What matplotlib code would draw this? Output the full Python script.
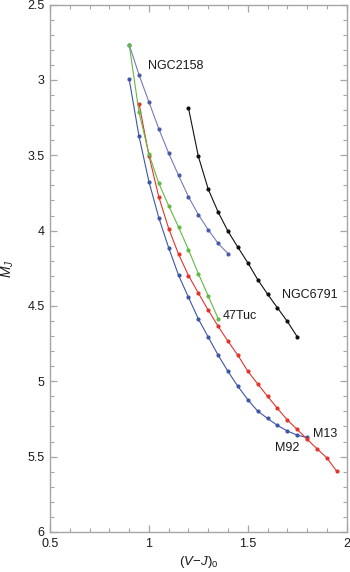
import matplotlib
matplotlib.use("Agg")
import matplotlib.pyplot as plt
from matplotlib.ticker import MultipleLocator

plt.rcParams['font.family'] = ['Liberation Sans', 'DejaVu Sans']
plt.rcParams['mathtext.fontset'] = 'custom'
plt.rcParams['mathtext.rm'] = 'Liberation Sans'
plt.rcParams['mathtext.it'] = 'Liberation Sans:italic'

# ---- data ----
m92_x = [0.90, 0.95, 1.00, 1.05, 1.10, 1.15, 1.20, 1.25, 1.30, 1.35, 1.40,
         1.45, 1.50, 1.55, 1.60, 1.65, 1.70, 1.75, 1.80]
m92_y = [2.995, 3.375, 3.675, 3.915, 4.115, 4.297, 4.443, 4.587, 4.707, 4.827, 4.935,
         5.034, 5.122, 5.198, 5.247, 5.293, 5.330, 5.358, 5.373]

m13_x = [0.95, 1.00, 1.05, 1.10, 1.15, 1.20, 1.25, 1.30, 1.35, 1.40, 1.45,
         1.50, 1.55, 1.60, 1.65, 1.70, 1.75, 1.80, 1.85, 1.90, 1.95]
m13_y = [3.157, 3.502, 3.777, 3.987, 4.157, 4.298, 4.415, 4.528, 4.635, 4.735, 4.828,
         4.933, 5.018, 5.100, 5.180, 5.257, 5.320, 5.385, 5.448, 5.509, 5.598]

tuc_x = [0.90, 0.95, 1.00, 1.05, 1.10, 1.15, 1.20, 1.25, 1.30, 1.35]
tuc_y = [2.765, 3.216, 3.492, 3.686, 3.836, 3.977, 4.127, 4.286, 4.434, 4.584]

n2158_x = [0.90, 0.95, 1.00, 1.05, 1.10, 1.15, 1.20, 1.25, 1.30, 1.35, 1.40]
n2158_y = [2.765, 2.967, 3.146, 3.325, 3.487, 3.634, 3.776, 3.894, 3.995, 4.085, 4.153]

n6791_x = [1.20, 1.25, 1.30, 1.35, 1.40, 1.45, 1.50, 1.55, 1.60, 1.65, 1.70, 1.75]
n6791_y = [3.187, 3.508, 3.726, 3.877, 4.005, 4.111, 4.214, 4.325, 4.422, 4.513, 4.603, 4.705]

labels = ["NGC2158", "NGC6791", "47Tuc", "M13", "M92"]
label_x = [0.995, 1.672, 1.372, 1.830, 1.636]
label_y = [2.905, 4.425, 4.568, 5.350, 5.443]

# ---- plot ----
fig = plt.figure(figsize=(3.5, 5.72), dpi=100)
ax = fig.add_axes([0.143, 0.07, 0.8476, 0.922])

lw = 0.8
ms = 3.0
ax.plot(n2158_x, n2158_y, '-', color='#7579bf', lw=lw, zorder=2)
ax.plot(n2158_x, n2158_y, 'o', color='#4b5aa8', ms=ms, mec='none', zorder=3)
ax.plot(m92_x, m92_y, '-o', color='#3d56a6', lw=lw, ms=ms, mec='none', zorder=3)
ax.plot(m13_x, m13_y, '-o', color='#e0352b', lw=lw, ms=ms, mec='none', zorder=3)
ax.plot(tuc_x, tuc_y, '-o', color='#64b845', lw=lw, ms=ms, mec='none', zorder=3)
ax.plot(n6791_x, n6791_y, '-o', color='#111111', lw=lw, ms=ms, mec='none', zorder=3)

for t, x, y in zip(labels, label_x, label_y):
    ax.text(x, y, t, fontsize=9, ha='left', va='center', color='#1a1a1a')

ax.set_xlim(0.5, 2.0)
ax.set_ylim(6.0, 2.5)
ax.xaxis.set_minor_locator(MultipleLocator(0.1))
ax.yaxis.set_minor_locator(MultipleLocator(0.1))
ax.set_xticks([0.5, 1.0, 1.5, 2.0])
ax.set_xticklabels(["0.5", "1", "1.5", "2"])
ax.set_yticks([2.5, 3, 3.5, 4, 4.5, 5, 5.5, 6])
ax.set_yticklabels(["2.5", "3", "3.5", "4", "4.5", "5", "5.5", "6"])

spine_c = '#a6a6a6'
for s in ax.spines.values():
    s.set_color(spine_c)
    s.set_linewidth(1.0)
ax.tick_params(which='both', direction='in', top=True, right=True,
               color=spine_c, labelsize=9, labelcolor='#1a1a1a')
ax.tick_params(which='major', length=5, width=0.9, pad=4)
ax.tick_params(which='minor', length=3, width=0.8)

ax.set_xlabel(r'$(V\!-\!J)_0$', fontsize=9.5, labelpad=3, color='#1a1a1a')
ax.set_ylabel(r'$M_{\mathit{J}}$', fontsize=10, labelpad=8, color='#1a1a1a')

fig.savefig('out.png', dpi=100)
